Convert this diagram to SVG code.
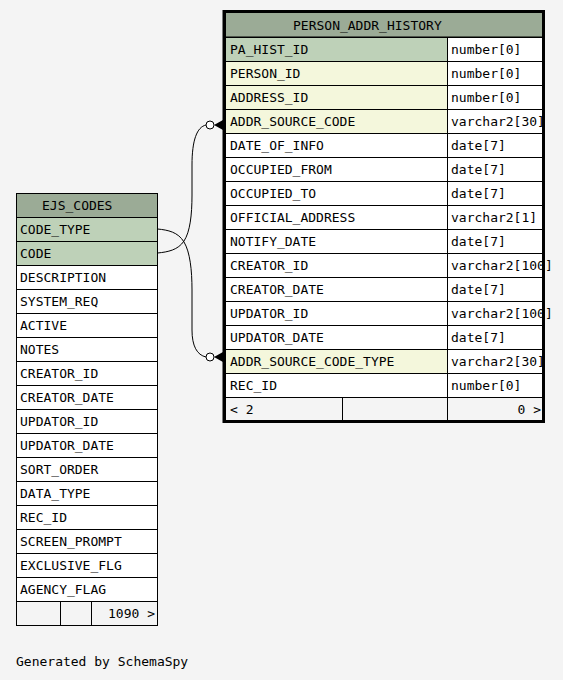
<svg xmlns="http://www.w3.org/2000/svg" width="563" height="680" viewBox="0 0 563 680">
<style>
text{font-family:"DejaVu Sans Mono","Liberation Mono",monospace;font-size:13px;fill:#000}
.c{stroke:#000;stroke-width:1}
.w{fill:#fff}
.h{fill:#9bab96}
.pk{fill:#bed1b8}
.fk{fill:#f4f7dc}
.ft{fill:#f4f4f4}
.e{fill:none;stroke:#000;stroke-width:1}
</style>
<rect width="563" height="680" fill="#f4f4f4"/>

<g id="connectors">
<path class="e" d="M157.5,253 C168,252 178,250 184,241 C190,232 192,215 192,195 L192,165 C192,140 197,127 206,125"/>
<path class="e" d="M157.5,229 C168,230 178,232 184,242 C190,252 192,270 192,290 L192,330 C192,346 197,355 206,357"/>
<circle cx="210" cy="125" r="4" fill="#fff" stroke="#000"/>
<polygon points="214,125 223,120 223,130" fill="#000"/>
<circle cx="210" cy="357" r="4" fill="#fff" stroke="#000"/>
<polygon points="214,357 223,352 223,362" fill="#000"/>
</g>

<g id="EJS_CODES">
<rect class="c h" x="16.5" y="193.5" width="141" height="24"/>
<text x="42" y="210">EJS_CODES</text>
<rect class="c pk" x="16.5" y="217.5" width="141" height="24"/><text x="20" y="234">CODE_TYPE</text>
<rect class="c pk" x="16.5" y="241.5" width="141" height="24"/><text x="20" y="258">CODE</text>
<rect class="c w" x="16.5" y="265.5" width="141" height="24"/><text x="20" y="282">DESCRIPTION</text>
<rect class="c w" x="16.5" y="289.5" width="141" height="24"/><text x="20" y="306">SYSTEM_REQ</text>
<rect class="c w" x="16.5" y="313.5" width="141" height="24"/><text x="20" y="330">ACTIVE</text>
<rect class="c w" x="16.5" y="337.5" width="141" height="24"/><text x="20" y="354">NOTES</text>
<rect class="c w" x="16.5" y="361.5" width="141" height="24"/><text x="20" y="378">CREATOR_ID</text>
<rect class="c w" x="16.5" y="385.5" width="141" height="24"/><text x="20" y="402">CREATOR_DATE</text>
<rect class="c w" x="16.5" y="409.5" width="141" height="24"/><text x="20" y="426">UPDATOR_ID</text>
<rect class="c w" x="16.5" y="433.5" width="141" height="24"/><text x="20" y="450">UPDATOR_DATE</text>
<rect class="c w" x="16.5" y="457.5" width="141" height="24"/><text x="20" y="474">SORT_ORDER</text>
<rect class="c w" x="16.5" y="481.5" width="141" height="24"/><text x="20" y="498">DATA_TYPE</text>
<rect class="c w" x="16.5" y="505.5" width="141" height="24"/><text x="20" y="522">REC_ID</text>
<rect class="c w" x="16.5" y="529.5" width="141" height="24"/><text x="20" y="546">SCREEN_PROMPT</text>
<rect class="c w" x="16.5" y="553.5" width="141" height="24"/><text x="20" y="570">EXCLUSIVE_FLG</text>
<rect class="c w" x="16.5" y="577.5" width="141" height="24"/><text x="20" y="594">AGENCY_FLAG</text>
<rect class="c ft" x="16.5" y="601.5" width="141" height="24"/>
<line class="c" x1="60.5" y1="601.5" x2="60.5" y2="625.5"/>
<line class="c" x1="91.5" y1="601.5" x2="91.5" y2="625.5"/>
<text x="155" y="618" text-anchor="end">1090 &gt;</text>
</g>

<g id="PERSON_ADDR_HISTORY">
<rect class="c h" x="225.5" y="12.5" width="318" height="24.5"/>
<text x="293" y="30">PERSON_ADDR_HISTORY</text>
<rect class="c pk" x="225.5" y="37.5" width="222" height="24"/><rect class="c w" x="447.5" y="37.5" width="96" height="24"/>
<text x="230" y="54">PA_HIST_ID</text><text x="451" y="54">number[0]</text>
<rect class="c fk" x="225.5" y="61.5" width="222" height="24"/><rect class="c w" x="447.5" y="61.5" width="96" height="24"/>
<text x="230" y="78">PERSON_ID</text><text x="451" y="78">number[0]</text>
<rect class="c fk" x="225.5" y="85.5" width="222" height="24"/><rect class="c w" x="447.5" y="85.5" width="96" height="24"/>
<text x="230" y="102">ADDRESS_ID</text><text x="451" y="102">number[0]</text>
<rect class="c fk" x="225.5" y="109.5" width="222" height="24"/><rect class="c w" x="447.5" y="109.5" width="96" height="24"/>
<text x="230" y="126">ADDR_SOURCE_CODE</text><text x="451" y="126">varchar2[30]</text>
<rect class="c w" x="225.5" y="133.5" width="222" height="24"/><rect class="c w" x="447.5" y="133.5" width="96" height="24"/>
<text x="230" y="150">DATE_OF_INFO</text><text x="451" y="150">date[7]</text>
<rect class="c w" x="225.5" y="157.5" width="222" height="24"/><rect class="c w" x="447.5" y="157.5" width="96" height="24"/>
<text x="230" y="174">OCCUPIED_FROM</text><text x="451" y="174">date[7]</text>
<rect class="c w" x="225.5" y="181.5" width="222" height="24"/><rect class="c w" x="447.5" y="181.5" width="96" height="24"/>
<text x="230" y="198">OCCUPIED_TO</text><text x="451" y="198">date[7]</text>
<rect class="c w" x="225.5" y="205.5" width="222" height="24"/><rect class="c w" x="447.5" y="205.5" width="96" height="24"/>
<text x="230" y="222">OFFICIAL_ADDRESS</text><text x="451" y="222">varchar2[1]</text>
<rect class="c w" x="225.5" y="229.5" width="222" height="24"/><rect class="c w" x="447.5" y="229.5" width="96" height="24"/>
<text x="230" y="246">NOTIFY_DATE</text><text x="451" y="246">date[7]</text>
<rect class="c w" x="225.5" y="253.5" width="222" height="24"/><rect class="c w" x="447.5" y="253.5" width="96" height="24"/>
<text x="230" y="270">CREATOR_ID</text><text x="451" y="270">varchar2[100]</text>
<rect class="c w" x="225.5" y="277.5" width="222" height="24"/><rect class="c w" x="447.5" y="277.5" width="96" height="24"/>
<text x="230" y="294">CREATOR_DATE</text><text x="451" y="294">date[7]</text>
<rect class="c w" x="225.5" y="301.5" width="222" height="24"/><rect class="c w" x="447.5" y="301.5" width="96" height="24"/>
<text x="230" y="318">UPDATOR_ID</text><text x="451" y="318">varchar2[100]</text>
<rect class="c w" x="225.5" y="325.5" width="222" height="24"/><rect class="c w" x="447.5" y="325.5" width="96" height="24"/>
<text x="230" y="342">UPDATOR_DATE</text><text x="451" y="342">date[7]</text>
<rect class="c fk" x="225.5" y="349.5" width="222" height="24"/><rect class="c w" x="447.5" y="349.5" width="96" height="24"/>
<text x="230" y="366">ADDR_SOURCE_CODE_TYPE</text><text x="451" y="366">varchar2[30]</text>
<rect class="c w" x="225.5" y="373.5" width="222" height="24"/><rect class="c w" x="447.5" y="373.5" width="96" height="24"/>
<text x="230" y="390">REC_ID</text><text x="451" y="390">number[0]</text>
<rect class="c ft" x="225.5" y="397.5" width="318" height="24"/>
<line class="c" x1="342.5" y1="397.5" x2="342.5" y2="421.5"/>
<line class="c" x1="447.5" y1="397.5" x2="447.5" y2="421.5"/>
<text x="230" y="414">&lt; 2</text>
<text x="541" y="414" text-anchor="end">0 &gt;</text>
<rect x="224" y="11.5" width="319.5" height="410" fill="none" stroke="#000" stroke-width="3"/>
</g>

<text x="16" y="666">Generated by SchemaSpy</text>
</svg>
